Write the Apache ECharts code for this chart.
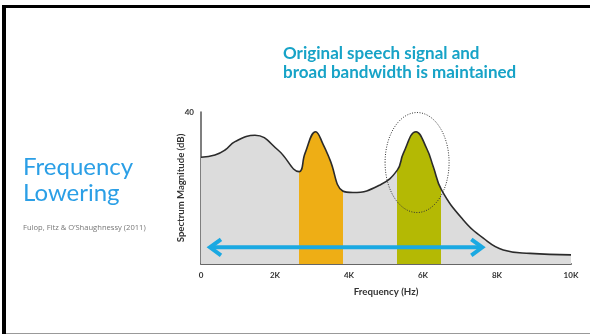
<!DOCTYPE html>
<html>
<head>
<meta charset="utf-8">
<script src="https://cdn.jsdelivr.net/npm/echarts@6/dist/echarts.min.js"></script>
<style>
html,body{margin:0;padding:0;background:#fff;}
#c{width:590px;height:335px;}
</style>
</head>
<body>
<div id="c"></div>
<script>
// ---- data ----
const freq = [0, 378, 649, 919, 1459, 2081, 2650, 2811, 3100, 3300, 3486, 3830, 4108, 4838, 5305, 5468, 5811, 6100, 6278, 6500, 7089, 7630, 8170, 8892, 10000];
const mag  = [28.1, 28.7, 30.0, 32.2, 33.9, 30.0, 24.3, 29.1, 34.8, 31.5, 27.4, 19.2, 18.8, 20.8, 24.7, 29.1, 34.8, 30.4, 25.6, 19.5, 11.6, 6.8, 3.7, 2.8, 2.4];
const xTicks = [0, 2000, 4000, 6000, 8000, 10000];
const xTickLabels = ['0', '2K', '4K', '6K', '8K', '10K'];
const yTicks = [0, 40];
const yTickLabels = ['', '40'];
const bandOrange = [2650, 3830];
const bandGreen = [5305, 6500];
const arrowRange = [243, 7603];
const arrowLevel = 4.4;
const ellipseCenter = [5840, 26.7];

const title1 = 'Original speech signal and';
const title2 = 'broad bandwidth is maintained';
const sideTitle1 = 'Frequency';
const sideTitle2 = 'Lowering';
const citation = 'Fulop, Fitz & O\u2019Shaughnessy (2011)';

const GRAY = '#dcdcdc', ORANGE = '#eeae15', GREEN = '#b4b904';
const pts = freq.map((f, i) => [f, mag[i]]);

const chart = echarts.init(document.getElementById('c'), null, {renderer: 'canvas'});
const labelMap = {};
xTicks.forEach((t, i) => labelMap[t] = xTickLabels[i]);
const yLabelMap = {};
yTicks.forEach((t, i) => yLabelMap[t] = yTickLabels[i]);

chart.setOption({
  animation: false,
  grid: {left: 201, right: 19, top: 112, bottom: 71, containLabel: false},
  xAxis: {
    type: 'value', min: 0, max: 10000, interval: 2000,
    name: 'Frequency (Hz)', nameLocation: 'middle', nameGap: 23, nameMoveOverlap: false,
    nameTextStyle: {fontFamily: 'Lato', fontSize: 9.7, fontWeight: 'bold', color: '#333'},
    axisLine: {show: true, lineStyle: {color: '#666', width: 2}},
    axisTick: {show: false},
    splitLine: {show: false},
    axisLabel: {fontFamily: 'Lato', fontSize: 8, fontWeight: 'bold', color: '#333', margin: 7,
      formatter: v => labelMap[v] !== undefined ? labelMap[v] : ''}
  },
  yAxis: {
    type: 'value', min: 0, max: 40, interval: 40,
    name: 'Spectrum Magnitude (dB)', nameLocation: 'middle', nameGap: 15, nameRotate: 90, nameMoveOverlap: false,
    nameTextStyle: {fontFamily: 'Lato', fontSize: 9.6, fontWeight: 'bold', color: '#333'},
    axisLine: {show: true, lineStyle: {color: '#555', width: 1.5}},
    axisTick: {show: false},
    splitLine: {show: false},
    axisLabel: {fontFamily: 'Lato', fontSize: 8, fontWeight: 'bold', color: '#333', margin: 7,
      formatter: v => yLabelMap[v] !== undefined ? yLabelMap[v] : ''}
  },
  visualMap: {
    type: 'piecewise', show: false, dimension: 0, seriesIndex: 0,
    pieces: [
      {gte: 0, lt: bandOrange[0], color: GRAY},
      {gte: bandOrange[0], lt: bandOrange[1], color: ORANGE},
      {gte: bandOrange[1], lt: bandGreen[0], color: GRAY},
      {gte: bandGreen[0], lt: bandGreen[1], color: GREEN},
      {gte: bandGreen[1], lte: 10000, color: GRAY}
    ]
  },
  series: [
    {type: 'line', data: pts, smooth: 0.45, symbol: 'none',
      lineStyle: {width: 0}, areaStyle: {opacity: 1}, silent: true, z: 1},
    {type: 'line', data: pts, smooth: 0.45, symbol: 'none',
      lineStyle: {width: 1.6, color: '#2b2b2b'}, itemStyle: {color: '#2b2b2b'}, silent: true, z: 3}
  ]
});

const a0 = chart.convertToPixel({gridIndex: 0}, [arrowRange[0], arrowLevel]);
const a1 = chart.convertToPixel({gridIndex: 0}, [arrowRange[1], arrowLevel]);
const ec = chart.convertToPixel({gridIndex: 0}, ellipseCenter);
const BLUE = '#1aa9e2';
const ah = 11, av = 8;

chart.setOption({
  graphic: [
    {type: 'rect', shape: {x: 2, y: 5, width: 4, height: 329}, style: {fill: '#000'}, z: 100},
    {type: 'rect', shape: {x: 2, y: 5, width: 588, height: 3}, style: {fill: '#000'}, z: 100},
    {type: 'line', shape: {x1: 6, y1: 333.5, x2: 590, y2: 333.5}, style: {stroke: '#999', lineWidth: 1}, z: 100},
    {type: 'text', style: {text: title1, x: 283, y: 54, align: 'left', verticalAlign: 'middle',
      font: 'bold 17px Lato', fill: '#17a3c7'}, z: 100},
    {type: 'text', style: {text: title2, x: 283, y: 73, align: 'left', verticalAlign: 'middle',
      font: 'bold 17px Lato', fill: '#17a3c7'}, z: 100},
    {type: 'text', style: {text: sideTitle1, x: 23, y: 167, align: 'left', verticalAlign: 'middle',
      font: '24px Lato', fill: '#2b9fe6'}, z: 100},
    {type: 'text', style: {text: sideTitle2, x: 23, y: 193, align: 'left', verticalAlign: 'middle',
      font: '24px Lato', fill: '#2b9fe6'}, z: 100},
    {type: 'text', style: {text: citation, x: 23, y: 228, align: 'left', verticalAlign: 'middle',
      font: '7.6px "Open Sans"', fill: '#777'}, z: 100},
    {type: 'ellipse', shape: {cx: ec[0], cy: ec[1], rx: 32, ry: 50},
      style: {fill: 'none', stroke: '#333', lineWidth: 1, lineDash: [1, 1.5]}, z: 100},
    {type: 'line', shape: {x1: a0[0] + 2, y1: a0[1], x2: a1[0] - 2, y2: a1[1]},
      style: {stroke: BLUE, lineWidth: 4}, z: 100},
    {type: 'polyline', shape: {points: [[a0[0] + ah, a0[1] - av], [a0[0], a0[1]], [a0[0] + ah, a0[1] + av]]},
      style: {stroke: BLUE, lineWidth: 4, fill: 'none', lineJoin: 'miter'}, z: 100},
    {type: 'polyline', shape: {points: [[a1[0] - ah, a1[1] - av], [a1[0], a1[1]], [a1[0] - ah, a1[1] + av]]},
      style: {stroke: BLUE, lineWidth: 4, fill: 'none', lineJoin: 'miter'}, z: 100}
  ]
});
</script>
</body>
</html>
